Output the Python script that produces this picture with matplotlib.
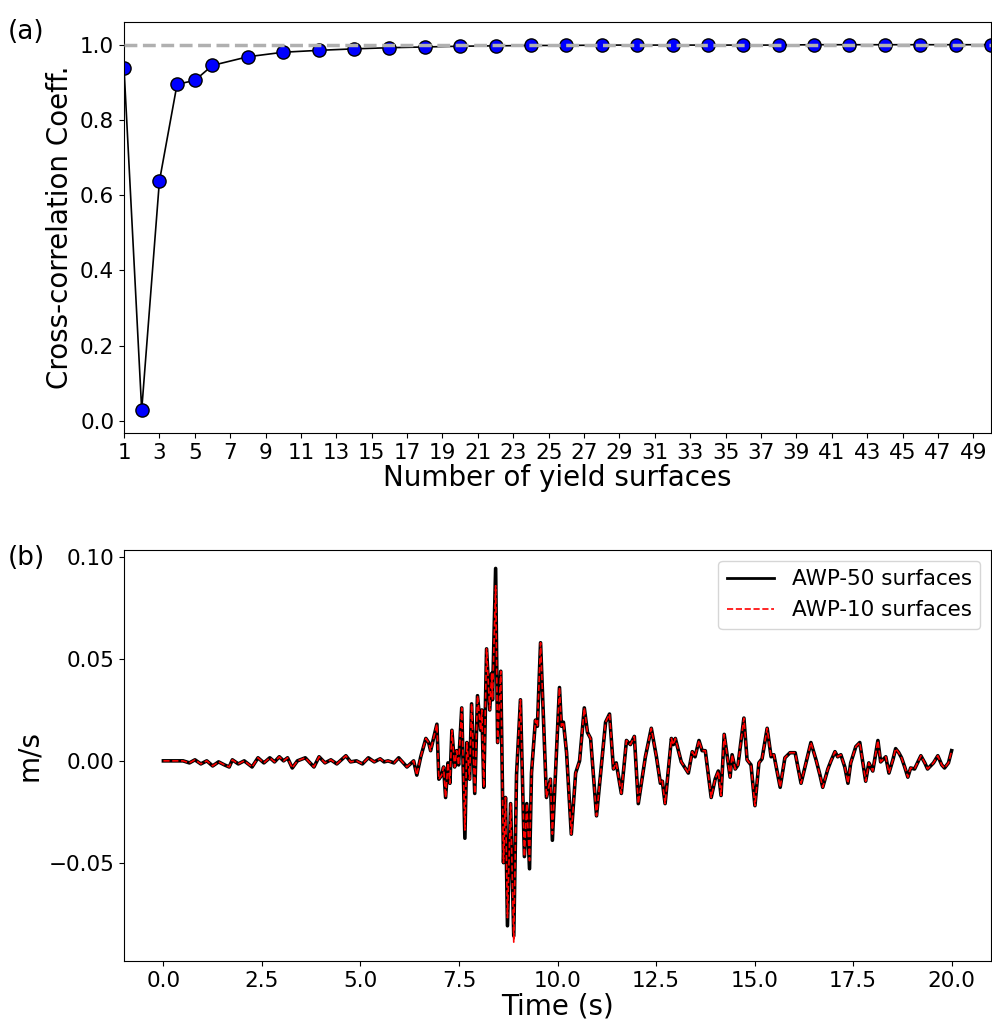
import matplotlib
matplotlib.use("Agg")
import matplotlib.pyplot as plt
import numpy as np

# (a) cross-correlation vs number of yield surfaces
n_surf = [1, 2, 3, 4, 5, 6] + list(range(8, 51, 2))
cc = [0.939, 0.029, 0.637, 0.895, 0.905, 0.945, 0.968, 0.980, 0.985, 0.989,
      0.992, 0.994, 0.996, 0.997, 0.998, 0.998, 0.999, 0.999, 0.999, 0.999,
      0.999, 0.999, 1.0, 1.0, 1.0, 1.0, 1.0, 1.0]

# (b) velocity time series, extrema
t = [0.0, 0.5, 0.66, 0.8, 0.95, 1.1, 1.25, 1.4, 1.55, 1.67, 1.75, 1.9, 2.05,
     2.25, 2.4, 2.55, 2.7, 2.82, 2.94, 3.05, 3.15, 3.27, 3.4, 3.6, 3.72, 3.82,
     3.95, 4.1, 4.25, 4.4, 4.63, 4.75, 4.9, 5.05, 5.2, 5.35, 5.5, 5.6, 5.7,
     5.85, 5.97, 6.18, 6.35, 6.43, 6.53, 6.66, 6.73, 6.78, 6.94, 6.99, 7.06,
     7.11, 7.16, 7.22, 7.27, 7.32, 7.39, 7.44, 7.49, 7.57, 7.65, 7.70, 7.77,
     7.82, 7.90, 7.97, 8.05, 8.08, 8.13, 8.20, 8.28, 8.33, 8.35, 8.43, 8.48,
     8.56, 8.63, 8.68, 8.73, 8.81, 8.89, 8.96, 9.06, 9.16, 9.22, 9.29, 9.34,
     9.44, 9.49, 9.57, 9.72, 9.82, 9.87, 10.05, 10.10, 10.15, 10.23, 10.35,
     10.46, 10.56, 10.68, 10.76, 10.84, 10.99, 11.11, 11.22, 11.32, 11.42,
     11.49, 11.62, 11.75, 11.85, 11.95, 12.05, 12.23, 12.38, 12.51, 12.61,
     12.66, 12.73, 12.89, 12.94, 12.99, 13.14, 13.32, 13.42, 13.49, 13.59,
     13.67, 13.75, 13.90, 14.0, 14.08, 14.15, 14.23, 14.38, 14.43, 14.51,
     14.58, 14.73, 14.81, 14.91, 15.01, 15.11, 15.19, 15.32, 15.42, 15.49,
     15.65, 15.77, 15.90, 16.03, 16.18, 16.28, 16.43, 16.56, 16.66, 16.73,
     16.86, 16.94, 17.04, 17.11, 17.19, 17.29, 17.37, 17.44, 17.57, 17.67,
     17.82, 17.90, 18.0, 18.13, 18.20, 18.33, 18.41, 18.51, 18.58, 18.66,
     18.73, 18.81, 18.89, 18.96, 19.06, 19.22, 19.32, 19.39, 19.54, 19.65,
     19.75, 19.82, 19.92, 20.0]
v50 = [0.0, 0.0, -0.001, 0.0005, -0.0015, 0.0, -0.0025, -0.0005, -0.002,
       -0.003, 0.0005, -0.0015, 0.0, -0.003, 0.0015, -0.001, 0.0015, -0.0005,
       0.002, 0.0, 0.0015, -0.0035, 0.0, 0.0015, -0.001, -0.003, 0.002,
       -0.001, 0.0005, -0.0015, 0.0025, -0.0005, 0.0, -0.0015, 0.0015,
       -0.0005, 0.001, -0.0005, 0.0, -0.001, 0.0015, -0.003, 0.0, -0.007,
       0.002, 0.011, 0.009, 0.005, 0.018, -0.009, -0.007, -0.003, -0.018,
       -0.001, -0.011, 0.015, -0.003, 0.005, -0.002, 0.026, -0.038, 0.009,
       -0.009, 0.028, -0.016, 0.032, 0.015, 0.025, -0.013, 0.055, 0.025,
       0.043, 0.03, 0.0945, 0.009, 0.044, -0.05, -0.018, -0.081, -0.021,
       -0.086, -0.007, 0.03, -0.047, -0.021, -0.053, -0.006, 0.02, 0.017,
       0.058, -0.018, -0.009, -0.039, 0.036, 0.017, 0.019, 0.004, -0.036,
       -0.006, 0.0, 0.026, 0.014, 0.011, -0.027, -0.003, 0.019, 0.023,
       -0.004, -0.001, -0.016, 0.01, 0.008, 0.012, -0.021, 0.002, 0.016,
       0.002, -0.011, -0.01, -0.021, 0.011, 0.008, 0.011, -0.0005, -0.006,
       0.0045, 0.002, 0.010, 0.005, 0.005, -0.018, -0.009, -0.005, -0.017,
       0.013, -0.008, 0.003, -0.004, -0.002, 0.021, 0.0005, -0.002, -0.022,
       -0.001, 0.001, 0.016, 0.002, 0.003, -0.013, 0.0015, 0.004, 0.004,
       -0.011, -0.003, 0.009, 0.0005, -0.007, -0.013, -0.004, 0.0, 0.0045,
       0.002, 0.003, -0.003, -0.011, -0.001, 0.007, 0.009, -0.010, -0.001,
       -0.005, 0.010, -0.0005, 0.002, -0.006, 0.0005, 0.006, 0.004, 0.0015,
       -0.003, -0.008, -0.0035, -0.004, 0.0025, -0.001, -0.004, -0.001,
       0.0025, -0.002, -0.0035, -0.001, 0.005]

# where the 10-surface run differs visibly from the 50-surface one
diff_t = [7.65, 8.43, 8.73, 8.89, 9.29, 9.87]
diff_v = [-0.034, 0.086, -0.077, -0.089, -0.049, -0.036]
v10 = list(v50)
for dt, dv in zip(diff_t, diff_v):
    v10[t.index(dt)] = dv

fig = plt.figure(figsize=(9.92, 10.36), dpi=100)
ax1 = fig.add_axes([0.125, 0.582, 0.874, 0.397])
ax2 = fig.add_axes([0.125, 0.072, 0.874, 0.397])

ax1.plot(n_surf, cc, color="black", lw=1.2, marker="o", ms=9.5,
         mfc="blue", mec="black", mew=1, zorder=2)
ax1.axhline(1.0, color="#b0b0b0", ls="--", lw=2.5, zorder=3)
ax1.set_xlim(1, 50)
ax1.set_ylim(-0.032, 1.061)
ax1.set_xticks(range(1, 50, 2))
ax1.set_yticks([0.0, 0.2, 0.4, 0.6, 0.8, 1.0])
ax1.set_xlabel("Number of yield surfaces", fontsize=20, labelpad=1)
ax1.set_ylabel("Cross-correlation Coeff.", fontsize=20)
ax1.tick_params(labelsize=15.5)
fig.text(0.008, 0.962, "(a)", fontsize=19)

ax2.plot(t, v50, color="black", lw=2.6, label="AWP-50 surfaces")
ax2.plot(t, v10, color="red", ls="--", lw=1.2, label="AWP-10 surfaces")
ax2.set_xlim(-1, 21)
ax2.set_ylim(-0.0985, 0.1035)
ax2.set_xticks(np.arange(0, 20.1, 2.5))
ax2.set_yticks([-0.05, 0.0, 0.05, 0.10])
ax2.set_xlabel("Time (s)", fontsize=20, labelpad=1)
ax2.set_ylabel("m/s", fontsize=20)
ax2.tick_params(labelsize=15.5)
leg = ax2.legend(loc="upper right", fontsize=15.5, handlelength=2.2)
leg.get_lines()[0].set_linewidth(2.0)
fig.text(0.008, 0.455, "(b)", fontsize=19)

fig.savefig("out.png", dpi=100)
